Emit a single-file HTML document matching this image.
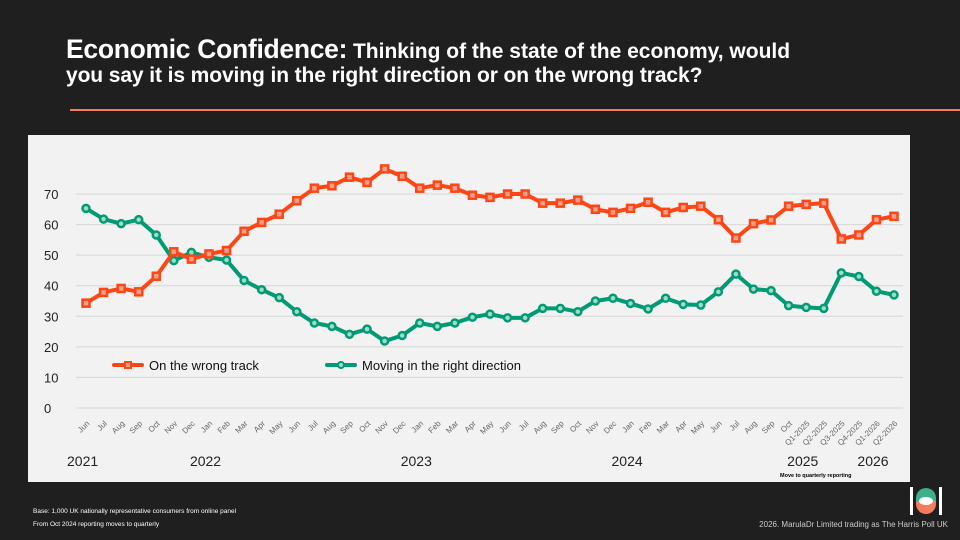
<!DOCTYPE html>
<html><head><meta charset="utf-8"><style>
body{margin:0;width:960px;height:540px;background:#1f1f1f;overflow:hidden;font-family:"Liberation Sans",sans-serif;position:relative}
.t{position:absolute;left:66px;color:#fff;font-family:"Liberation Sans Narrow","Liberation Sans",sans-serif;font-weight:bold;white-space:nowrap}
</style></head><body>
<div class="t" style="top:34px;font-size:21px;letter-spacing:0px"><span style="font-size:26.5px;letter-spacing:-0.3px">Economic Confidence:</span> Thinking of the state of the economy, would</div>
<div class="t" style="top:64px;font-size:21px;letter-spacing:-0.1px">you say it is moving in the right direction or on the wrong track?</div>
<div style="position:absolute;left:70px;top:109px;width:890px;height:2px;background:#f47c5c"></div>
<svg id="c" width="960" height="540" style="position:absolute;left:0;top:0"></svg>
<div style="position:absolute;left:33px;top:508px;color:#fff;font-size:6.5px">Base: 1,000 UK nationally representative consumers from online panel</div>
<div style="position:absolute;left:33px;top:521px;color:#fff;font-size:6.5px">From Oct 2024 reporting moves to quarterly</div>
<div style="position:absolute;right:12px;top:520px;color:#ccc;font-size:8px">2026. MarulaDr Limited trading as The Harris Poll UK</div>
<div style="position:absolute;left:910px;top:487px;width:32px;height:28px">
<div style="position:absolute;left:0;top:0;width:3px;height:28px;background:#fff"></div>
<div style="position:absolute;right:0;top:0;width:3px;height:28px;background:#fff"></div>
<div style="position:absolute;left:6px;top:1px;width:20px;height:13px;background:#3bb08a;border-radius:10px 10px 0 0"></div>
<div style="position:absolute;left:6px;top:14px;width:20px;height:13px;background:#f47c5c;border-radius:0 0 10px 10px"></div>
<div style="position:absolute;left:9px;top:10px;width:14px;height:8px;background:#fff;border-radius:50%"></div>
</div>
<script>
const categories=["Jun","Jul","Aug","Sep","Oct","Nov","Dec","Jan","Feb","Mar","Apr","May","Jun","Jul","Aug","Sep","Oct","Nov","Dec","Jan","Feb","Mar","Apr","May","Jun","Jul","Aug","Sep","Oct","Nov","Dec","Jan","Feb","Mar","Apr","May","Jun","Jul","Aug","Sep","Oct","Q1-2025","Q2-2025","Q3-2025","Q4-2025","Q1-2026","Q2-2026"];
const wrongTrack=[34.3,37.8,39.1,38,43.1,51.1,48.7,50.4,51.5,57.8,60.7,63.4,67.8,71.9,72.7,75.5,73.8,78.2,75.8,71.9,72.9,71.9,69.6,68.9,70,70,67,67,68,65,64,65.3,67.3,64,65.6,66,61.6,55.6,60.3,61.5,66,66.6,67,55.3,56.6,61.6,62.7];
const rightDirection=[65.3,61.8,60.3,61.6,56.6,48.2,50.9,49.3,48.4,41.7,38.7,36.1,31.5,27.8,26.7,24.1,25.8,21.9,23.7,27.8,26.7,27.8,29.7,30.7,29.5,29.5,32.6,32.6,31.5,35,35.9,34.2,32.4,35.9,33.9,33.7,38,43.8,38.9,38.4,33.5,32.9,32.6,44.2,43,38.2,37];
const yTicks=[0,10,20,30,40,50,60,70];
const yearLabels=["2021","2022","2023","2024","2025","2026"];
const yearIdx=[0,7,19,31,41,45];
const NS="http://www.w3.org/2000/svg",svg=document.getElementById('c');
function el(t,a,p){const e=document.createElementNS(NS,t);for(const k in a)e.setAttribute(k,a[k]);(p||svg).appendChild(e);return e;}
const x=i=>86+i*(894-86)/(categories.length-1);
const y=v=>408-v*(408-194)/70;
const panel=el('rect',{x:28,y:135,width:882,height:347,fill:'#f2f2f2'});


yTicks.forEach(v=>{
 const g=el('line',{x1:76,x2:903,y1:y(v),y2:y(v),stroke:'#d6d6d6','stroke-width':1});
 
 
 const t=el('text',{x:44,y:y(v)+5,'font-size':13,fill:'#222','font-family':'Liberation Sans'});t.textContent=v;
 
 
});
categories.forEach((c,i)=>{
 const t=el('text',{x:x(i)+4,y:424,'font-size':8,fill:'#666','text-anchor':'end',transform:`rotate(-45 ${x(i)+4} 424)`});t.textContent=c;
 
 
});
yearLabels.forEach((l,k)=>{
 const t=el('text',{x:x(yearIdx[k])-19,y:466,'font-size':14,fill:'#222'});t.textContent=l;
 
 
});
const qn=el('text',{x:780,y:477,'font-size':5.5,fill:'#000','font-weight':'bold'});qn.textContent='Move to quarterly reporting';


function series(vals,col,sq,name){
 const p=el('polyline',{points:vals.map((v,i)=>x(i)+','+y(v)).join(' '),fill:'none',stroke:col,'stroke-width':4,'stroke-linejoin':'round'});
 
 
 vals.forEach((v,i)=>{
  const m=sq?el('rect',{x:x(i)-3.5,y:y(v)-3.5,width:7,height:7,fill:'#f2a08a',stroke:col,'stroke-width':2.5}):el('circle',{cx:x(i),cy:y(v),r:3.5,fill:'#9fdcc8',stroke:col,'stroke-width':2.5});
  
  
 });
}
series(rightDirection,'#009a74',false,'right-direction');
series(wrongTrack,'#fc4616',true,'wrong-track');
function legend(lx,col,sq,label,name){
 const l=el('line',{x1:lx,x2:lx+28,y1:365,y2:365,stroke:col,'stroke-width':4,'stroke-linecap':'round'});
 
 
 sq?el('rect',{x:lx+11,y:362,width:6,height:6,fill:'#f2a08a',stroke:col,'stroke-width':2}):el('circle',{cx:lx+14,cy:365,r:3,fill:'#9fdcc8',stroke:col,'stroke-width':2});
 const t=el('text',{x:lx+35,y:370,'font-size':13,fill:'#111'});t.textContent=label;
 
 
}
legend(114,'#fc4616',true,'On the wrong track','wrong-track');
legend(327,'#009a74',false,'Moving in the right direction','right-direction');
</script>
</body></html>
